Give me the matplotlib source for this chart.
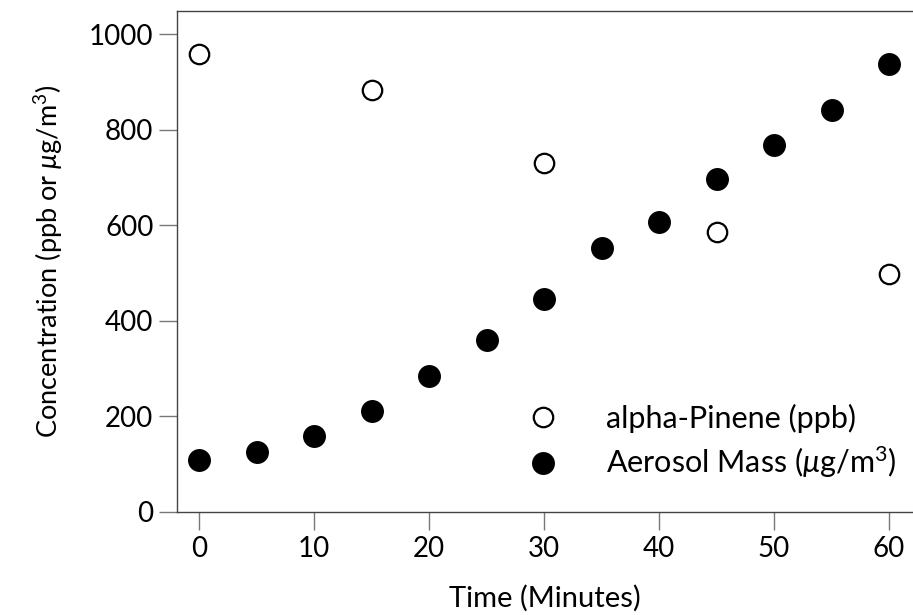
import matplotlib
matplotlib.use("Agg")
import matplotlib.pyplot as plt

plt.rcParams['font.family'] = ['Lato', 'DejaVu Sans']
plt.rcParams['mathtext.fontset'] = 'custom'
plt.rcParams['mathtext.rm'] = 'Lato'
plt.rcParams['mathtext.it'] = 'Lato:italic'

pinene_time = [0, 15, 30, 45, 60]
pinene_conc = [959, 884, 731, 586, 498]

aerosol_time = [0, 5, 10, 15, 20, 25, 30, 35, 40, 45, 50, 55, 60]
aerosol_mass = [109, 126, 160, 211, 285, 361, 446, 553, 607, 697, 768, 842, 938]

x_ticks = [0, 10, 20, 30, 40, 50, 60]
y_ticks = [0, 200, 400, 600, 800, 1000]

fig = plt.figure(figsize=(9.13, 6.15), dpi=100)
ax = fig.add_axes([177/913, 1-512/615, (912-177)/913, (512-11)/615])

ax.plot(pinene_time, pinene_conc, linestyle='none', marker='o', markersize=14,
        markerfacecolor='white', markeredgecolor='black', markeredgewidth=1.6,
        label='alpha-Pinene (ppb)')
ax.plot(aerosol_time, aerosol_mass, linestyle='none', marker='o', markersize=15.5,
        markerfacecolor='black', markeredgecolor='black',
        label=r'Aerosol Mass ($\mu$g/m$^3$)')

ax.set_xlim(-1.94, 62)
ax.set_ylim(0, 1049)
ax.set_xticks(x_ticks)
ax.set_yticks(y_ticks)

for s in ['left', 'bottom', 'top']:
    ax.spines[s].set_color('#444444')
    ax.spines[s].set_linewidth(1.0)
ax.spines['right'].set_visible(False)
ax.tick_params(direction='out', length=13, width=1.0, color='#777777',
               labelsize=20, pad=4)

ax.set_xlabel('Time (Minutes)', fontsize=21, labelpad=17)
ax.set_ylabel(r'Concentration (ppb or $\mu$g/m$^3$)', fontsize=19.5, labelpad=17)

leg = ax.legend(loc='lower right', frameon=False, fontsize=22,
                handletextpad=1.3, labelspacing=0.38, borderaxespad=0.0,
                bbox_to_anchor=(0.995, 0.039), handlelength=1.5)

fig.savefig('out.png', dpi=100)
